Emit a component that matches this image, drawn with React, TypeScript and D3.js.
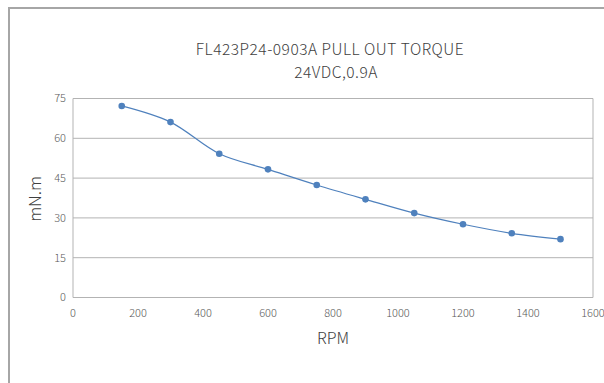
import React from "react";
import * as d3 from "d3";

const rpm = [150, 300, 450, 600, 750, 900, 1050, 1200, 1350, 1500];
const torque = [72.2, 66.1, 54.2, 48.3, 42.4, 37.0, 31.8, 27.6, 24.2, 22.0];
const xTicks = [0, 200, 400, 600, 800, 1000, 1200, 1400, 1600];
const yTicks = [0, 15, 30, 45, 60, 75];
const titleLines = ["FL423P24-0903A PULL OUT TORQUE", "24VDC,0.9A"];
const xLabel = "RPM";
const yLabel = "mN.m";

const W = 604;
const H = 383;
const font = "'Noto Sans CJK SC', 'Noto Sans', sans-serif";

export default function App() {
  const x = d3.scaleLinear().domain([0, 1600]).range([73, 593]);
  const y = d3.scaleLinear().domain([0, 75]).range([297.5, 98.5]);
  const pts = rpm.map((r, i) => [x(r), y(torque[i])] as [number, number]);
  const line = d3.line().curve(d3.curveCatmullRom.alpha(0.5))(pts) || "";
  const blue = "#4F81BD";
  const titleX = [330, 336];
  return (
    <svg
      width={W}
      height={H}
      style={{ position: "absolute", left: 0, top: 0, background: "#fff" }}
    >
      <rect x={0} y={0} width={W} height={H} fill="#fff" />
      <path d={`M9,${H} L9,8 L${W},8`} fill="none" stroke="#a6a6a6" strokeWidth={2} />
      {yTicks.map((t) => (
        <line key={t} x1={x(0)} x2={x(1600)} y1={y(t)} y2={y(t)} stroke="#b3b3b3" strokeWidth={1} />
      ))}
      <line x1={x(0)} x2={x(0)} y1={y(0)} y2={y(75)} stroke="#b3b3b3" />
      <line x1={x(1600)} x2={x(1600)} y1={y(0)} y2={y(75)} stroke="#b3b3b3" />
      {yTicks.map((t) => (
        <text key={t} x={66} y={y(t)} dy="0.35em" textAnchor="end" fontFamily={font} fontWeight={300} fontSize={11} fill="#595959">
          {t}
        </text>
      ))}
      {xTicks.map((t) => (
        <text key={t} x={x(t)} y={313} dy="0.35em" textAnchor="middle" fontFamily={font} fontWeight={300} fontSize={11} fill="#595959">
          {t}
        </text>
      ))}
      <path d={line} fill="none" stroke={blue} strokeWidth={1.2} />
      {pts.map((p, i) => (
        <circle key={i} cx={p[0]} cy={p[1]} r={3.3} fill={blue} />
      ))}
      {titleLines.map((t, i) => (
        <text key={i} x={titleX[i]} y={49.5 + i * 22.6} dy="0.35em" textAnchor="middle" fontFamily={font} fontWeight={300} fontSize={15.5} letterSpacing={0.5} fill="#404040">
          {t}
        </text>
      ))}
      <text x={333} y={338} dy="0.35em" textAnchor="middle" fontFamily={font} fontWeight={300} fontSize={16} fill="#404040">
        {xLabel}
      </text>
      <text transform={`translate(35,199) rotate(-90)`} dy="0.35em" textAnchor="middle" fontFamily={font} fontWeight={300} fontSize={16.5} fill="#404040">
        {yLabel}
      </text>
    </svg>
  );
}
